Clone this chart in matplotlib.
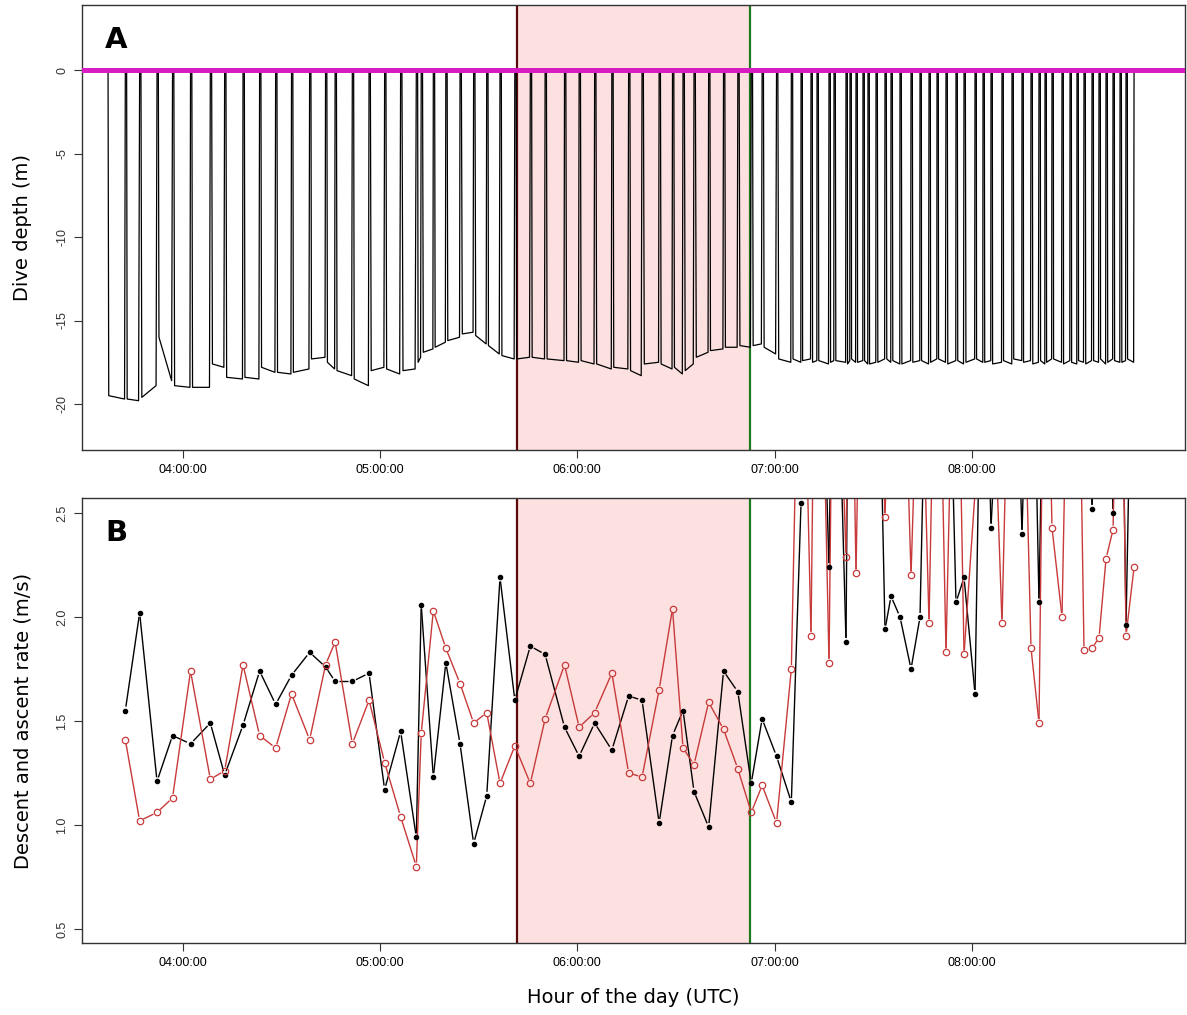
import matplotlib
matplotlib.use("Agg")
import matplotlib.pyplot as plt
import numpy as np
from matplotlib.collections import LineCollection

plt.rcParams["font.family"] = ["DejaVu Sans"]

# times are minutes after 03:00 UTC
first_dive_start = 37.36
dive_end = [
    42.61, 46.96, 52.25, 56.96, 62.43, 68.45, 72.80, 78.39, 83.43, 88.30,
    93.13, 98.63, 103.47, 106.38, 111.61, 116.69, 121.43, 126.29, 131.06, 132.55,
    136.23, 140.03, 144.35, 148.48, 152.46, 156.50, 161.00, 165.71, 170.21, 176.11,
    180.55, 185.26, 190.49, 195.59, 199.67, 204.86, 208.93, 212.13, 215.47, 219.91,
    224.44, 228.79, 232.86, 236.17, 240.55, 245.05,
    248.00, 251.03, 252.86, 256.50, 258.02, 261.67, 262.88, 264.71, 266.83, 268.35,
    270.79, 273.52, 275.35, 278.08, 281.43, 284.16, 286.90, 289.33, 292.06, 295.10,
    297.54, 300.88, 303.31, 305.74, 309.08, 312.12, 315.16, 317.90, 320.33, 322.16,
    324.28, 327.32, 329.76, 331.88, 334.01, 336.45, 338.57, 340.70, 342.83, 344.96,
    346.78, 349.22,
]
bottom_start = [
    -19.5, -19.7, -19.6, -16.0, -18.9, -19.0, -17.6, -18.4, -18.4, -17.8,
    -18.1, -18.1, -17.3, -17.5, -18.0, -18.5, -18.0, -17.9, -18.0, -17.5,
    -16.9, -16.6, -16.2, -15.8, -15.9, -16.5, -17.1, -17.3, -17.2, -17.3,
    -17.4, -17.4, -17.6, -17.8, -18.0, -17.6, -17.6, -17.8, -18.0, -17.2,
    -16.8, -16.6, -16.5, -16.5, -16.6, -17.3,
    -17.3, -17.4, -17.5, -17.4, -17.5, -17.4, -17.6, -17.3, -17.5, -17.4,
    -17.6, -17.5, -17.3, -17.4, -17.6, -17.5, -17.4, -17.5, -17.3, -17.6,
    -17.4, -17.5, -17.3, -17.5, -17.6, -17.4, -17.3, -17.5, -17.6, -17.4,
    -17.5, -17.3, -17.6, -17.5, -17.4, -17.6, -17.4, -17.3, -17.5, -17.4,
    -17.5, -17.3,
]
bottom_end = [
    -19.7, -19.8, -18.9, -18.6, -19.0, -19.0, -17.8, -18.5, -18.5, -18.1,
    -18.2, -17.9, -17.2, -17.9, -18.3, -18.9, -17.8, -18.2, -17.9, -17.2,
    -16.7, -16.3, -16.0, -15.7, -16.4, -17.0, -17.3, -17.2, -17.3, -17.4,
    -17.5, -17.6, -17.9, -17.9, -18.3, -17.5, -17.9, -18.2, -17.6, -16.9,
    -16.7, -16.6, -16.6, -16.4, -17.0, -17.5,
    -17.5, -17.3, -17.4, -17.6, -17.4, -17.5, -17.4, -17.5, -17.4, -17.6,
    -17.5, -17.3, -17.5, -17.6, -17.4, -17.4, -17.6, -17.3, -17.5, -17.4,
    -17.6, -17.3, -17.5, -17.4, -17.5, -17.6, -17.4, -17.4, -17.5, -17.6,
    -17.3, -17.5, -17.4, -17.6, -17.5, -17.4, -17.5, -17.6, -17.3, -17.5,
    -17.4, -17.5,
]
descent_rate = [
    1.55, 2.02, 1.21, 1.43, 1.39, 1.49, 1.24, 1.48, 1.74, 1.58,
    1.72, 1.83, 1.76, 1.69, 1.69, 1.73, 1.17, 1.45, 0.94, 2.06,
    1.23, 1.78, 1.39, 0.91, 1.14, 2.19, 1.60, 1.86, 1.82, 1.47,
    1.33, 1.49, 1.36, 1.62, 1.60, 1.01, 1.43, 1.55, 1.16, 0.99,
    1.74, 1.64, 1.20, 1.51, 1.33, 1.11,
    2.55, 3.80, 4.20, 2.24, 4.00, 1.88, 4.50, 4.00, 4.00, 3.50,
    4.00, 1.94, 2.10, 2.00, 1.75, 2.00, 4.00, 3.50, 4.00, 2.07,
    2.19, 1.63, 4.00, 2.43, 3.50, 4.00, 2.40, 4.00, 2.07, 3.80,
    4.00, 3.60, 4.00, 3.50, 4.00, 2.52, 3.50, 4.00, 2.50, 4.00,
    1.96, 4.00,
]
ascent_rate = [
    1.41, 1.02, 1.06, 1.13, 1.74, 1.22, 1.26, 1.77, 1.43, 1.37,
    1.63, 1.41, 1.77, 1.88, 1.39, 1.60, 1.30, 1.04, 0.80, 1.44,
    2.03, 1.85, 1.68, 1.49, 1.54, 1.20, 1.38, 1.20, 1.51, 1.77,
    1.47, 1.54, 1.73, 1.25, 1.23, 1.65, 2.04, 1.37, 1.29, 1.59,
    1.46, 1.27, 1.06, 1.19, 1.01, 1.75,
    4.00, 1.91, 4.50, 1.78, 4.00, 2.29, 4.00, 2.21, 4.20, 3.80,
    4.00, 2.48, 3.50, 4.00, 2.20, 3.60, 1.97, 4.00, 1.83, 4.00,
    1.82, 2.60, 4.00, 3.50, 1.97, 4.00, 3.60, 1.85, 1.49, 4.00,
    2.43, 2.00, 4.00, 4.00, 1.84, 1.85, 1.90, 2.28, 2.42, 4.00,
    1.91, 2.24,
]
surface_gap = 0.4  # min between ascent and next descent
shade_start, shade_end = 161.67, 232.49
hour_ticks = [60, 120, 180, 240, 300]
hour_labels = ["04:00:00", "05:00:00", "06:00:00", "07:00:00", "08:00:00"]

# build the depth trace from the dive table
tx, ty = [first_dive_start - 2], [0.0]
start = first_dive_start
for end, b0, b1, dr, ar in zip(dive_end, bottom_start, bottom_end, descent_rate, ascent_rate):
    t_down = -b0 / dr / 60
    t_up = -b1 / ar / 60
    tx += [start, start + t_down, end - t_up, end]
    ty += [0.0, b0, b1, 0.0]
    start = end + surface_gap

fig = plt.figure(figsize=(11.87, 10.15), dpi=100)
ax1 = fig.add_axes([0.0691, 0.5567, 0.9292, 0.4384])
ax2 = fig.add_axes([0.0691, 0.0709, 0.9292, 0.4384])

xlim = (29.45, 364.7)
for ax in (ax1, ax2):
    ax.set_xlim(*xlim)
    ax.axvspan(shade_start, shade_end, color="#fde1e1", lw=0, zorder=0)
    ax.axvline(shade_start, color="#5a0a0a", lw=1.6, zorder=1)
    ax.axvline(shade_end, color="#1f7a1f", lw=1.6, zorder=1)
    ax.set_xticks(hour_ticks)
    ax.set_xticklabels(hour_labels, family="Liberation Sans", fontsize=9)
    ax.tick_params(axis="both", direction="out", length=6, width=0.8, color="#333333")
    ax.tick_params(axis="x", pad=4)
    ax.tick_params(axis="y", pad=4)
    for sp in ax.spines.values():
        sp.set_color("#333333")
        sp.set_linewidth(1.0)

# panel A
ax1.set_ylim(-22.75, 3.9)
ax1.plot(tx, ty, color="black", lw=0.9, zorder=2)
ax1.axhline(0, color="#d91cc2", lw=3.6, zorder=3)
ax1.set_yticks([0, -5, -10, -15, -20])
ax1.set_yticklabels(["0", "-5", "-10", "-15", "-20"], rotation=90, va="center",
                    family="Liberation Sans", fontsize=9, color="#333333")
ax1.set_ylabel("Dive depth (m)", fontsize=14)
ax1.yaxis.set_label_coords(-0.045, 0.5)
ax1.text(0.021, 0.952, "A", transform=ax1.transAxes, fontsize=21, fontweight="bold", va="top")

# panel B
ax2.set_ylim(0.432, 2.572)
ax2.set_yticks([0.5, 1.0, 1.5, 2.0, 2.5])
ax2.set_yticklabels(["0.5", "1.0", "1.5", "2.0", "2.5"], rotation=90, va="center",
                    family="Liberation Sans", fontsize=9, color="#333333")
ax2.set_ylabel("Descent and ascent rate (m/s)", fontsize=14)
ax2.yaxis.set_label_coords(-0.045, 0.5)
ax2.set_xlabel("Hour of the day (UTC)", fontsize=14)
ax2.xaxis.set_label_coords(0.5, -0.1)
ax2.text(0.021, 0.952, "B", transform=ax2.transAxes, fontsize=21, fontweight="bold", va="top")


def gapped_line(ax, x, y, color, gap):
    # R type="b": segments stop short of the points
    pts = ax.transData.transform(np.column_stack([x, y]))
    inv = ax.transData.inverted()
    segs = []
    for p0, p1 in zip(pts[:-1], pts[1:]):
        d = p1 - p0
        L = np.hypot(*d)
        if L <= 2 * gap:
            continue
        u = d / L
        segs.append(inv.transform([p0 + u * gap, p1 - u * gap]))
    ax.add_collection(LineCollection(segs, colors=color, linewidths=1.0, zorder=2))


gapped_line(ax2, dive_end, descent_rate, "black", 4)
gapped_line(ax2, dive_end, ascent_rate, "#c83a3a", 4)
ax2.plot(dive_end, descent_rate, ls="none", marker="o", ms=3.0, color="black", zorder=3)
ax2.plot(dive_end, ascent_rate, ls="none", marker="o", ms=4.6, mfc="none", mec="#c83a3a",
         mew=0.9, zorder=3)

fig.savefig("out.png", dpi=100)
